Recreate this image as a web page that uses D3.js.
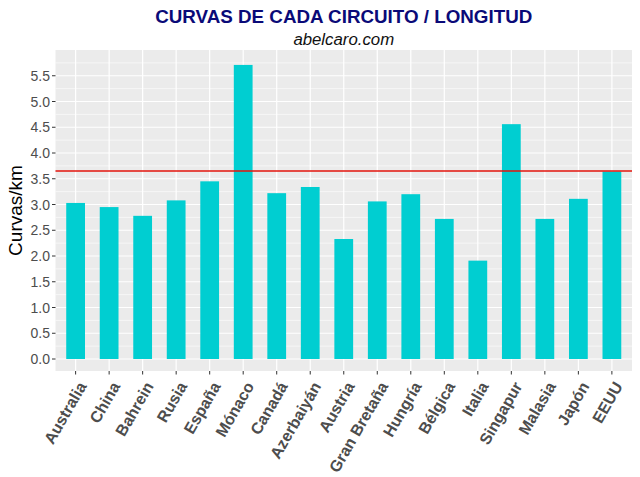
<!DOCTYPE html>
<html><head><meta charset="utf-8">
<script src="https://cdn.jsdelivr.net/npm/d3@7"></script>
<style>body{margin:0;background:#fff}svg{display:block}text{font-family:"Liberation Sans",Arial,sans-serif}</style>
</head><body><svg id="c" width="640" height="477"></svg>
<script>
const categories = ["Australia","China","Bahrein","Rusia","España","Mónaco","Canadá","Azerbaiyán","Austria","Gran Bretaña","Hungría","Bélgica","Italia","Singapur","Malasia","Japón","EEUU"];
const curvasKm = [3.03,2.95,2.78,3.08,3.45,5.71,3.22,3.34,2.33,3.06,3.20,2.72,1.91,4.56,2.72,3.11,3.64];
const referenceLine = 3.65;
const yTicks = [0,0.5,1,1.5,2,2.5,3,3.5,4,4.5,5,5.5];
const yTickLabels = ["0.0","0.5","1.0","1.5","2.0","2.5","3.0","3.5","4.0","4.5","5.0","5.5"];
const titleText = "CURVAS DE CADA CIRCUITO / LONGITUD";
const subtitleText = "abelcaro.com";
const yLabel = "Curvas/km";

const svg = d3.select("#c");
const L = 55.5, R = 632, T = 50, B = 371;
const x = d3.scaleBand().domain(categories).range([L, R]).paddingInner(0.44).paddingOuter(0.32);
const y = d3.scaleLinear().domain([-0.233, 6.0]).range([B, T]);

svg.append("rect").attr("x", L).attr("y", T).attr("width", R - L).attr("height", B - T).attr("fill", "#ebebeb");
const g = svg.append("g");
const minor = d3.range(0.25, 6.0, 0.5);
g.selectAll(".mn").data(minor).enter().append("line")
  .attr("x1", L).attr("x2", R).attr("y1", d => y(d)).attr("y2", d => y(d))
  .attr("stroke", "#fff").attr("stroke-width", 0.6);
g.selectAll(".mj").data(yTicks).enter().append("line")
  .attr("x1", L).attr("x2", R).attr("y1", d => y(d)).attr("y2", d => y(d))
  .attr("stroke", "#fff").attr("stroke-width", 1.2);
g.selectAll(".vx").data(categories).enter().append("line")
  .attr("x1", d => x(d) + x.bandwidth()/2).attr("x2", d => x(d) + x.bandwidth()/2)
  .attr("y1", T).attr("y2", B).attr("stroke", "#fff").attr("stroke-width", 1.2);

svg.selectAll(".bar").data(categories).enter().append("rect")
  .attr("x", d => x(d)).attr("width", x.bandwidth())
  .attr("y", (d, i) => y(curvasKm[i])).attr("height", (d, i) => y(0) - y(curvasKm[i]))
  .attr("fill", "#00CED1");

svg.append("line").attr("x1", L).attr("x2", R)
  .attr("y1", y(referenceLine)).attr("y2", y(referenceLine))
  .attr("stroke", "#e3150d").attr("stroke-width", 1.4);

const ya = svg.append("g");
ya.selectAll("line").data(yTicks).enter().append("line")
  .attr("x1", L - 3.5).attr("x2", L).attr("y1", d => y(d)).attr("y2", d => y(d))
  .attr("stroke", "#333").attr("stroke-width", 1);
ya.selectAll("text").data(yTicks).enter().append("text")
  .attr("x", L - 5.5).attr("y", d => y(d)).attr("dy", "0.36em")
  .attr("text-anchor", "end").attr("font-size", "14px").attr("fill", "#4d4d4d")
  .text((d, i) => yTickLabels[i]);

const xa = svg.append("g");
xa.selectAll("line").data(categories).enter().append("line")
  .attr("x1", d => x(d) + x.bandwidth()/2).attr("x2", d => x(d) + x.bandwidth()/2)
  .attr("y1", B).attr("y2", B + 3.5).attr("stroke", "#333").attr("stroke-width", 1);
xa.selectAll("text").data(categories).enter().append("text")
  .attr("transform", d => `translate(${x(d) + x.bandwidth()/2 + 11.5},${B + 15}) rotate(-60)`)
  .attr("text-anchor", "end").attr("font-size", "16px").attr("font-weight", "bold").attr("fill", "#4d4d4d")
  .text(d => d);

svg.append("text").attr("transform", `translate(22,${(T + B)/2}) rotate(-90)`)
  .attr("text-anchor", "middle").attr("font-size", "19px").attr("fill", "#000").text(yLabel);

svg.append("text").attr("x", (L + R)/2).attr("y", 23).attr("text-anchor", "middle")
  .attr("font-size", "18.8px").attr("font-weight", "bold").attr("fill", "#0a0a78").text(titleText);
svg.append("text").attr("x", (L + R)/2).attr("y", 45).attr("text-anchor", "middle")
  .attr("font-size", "16.8px").attr("font-style", "italic").attr("fill", "#111").text(subtitleText);
</script></body></html>
